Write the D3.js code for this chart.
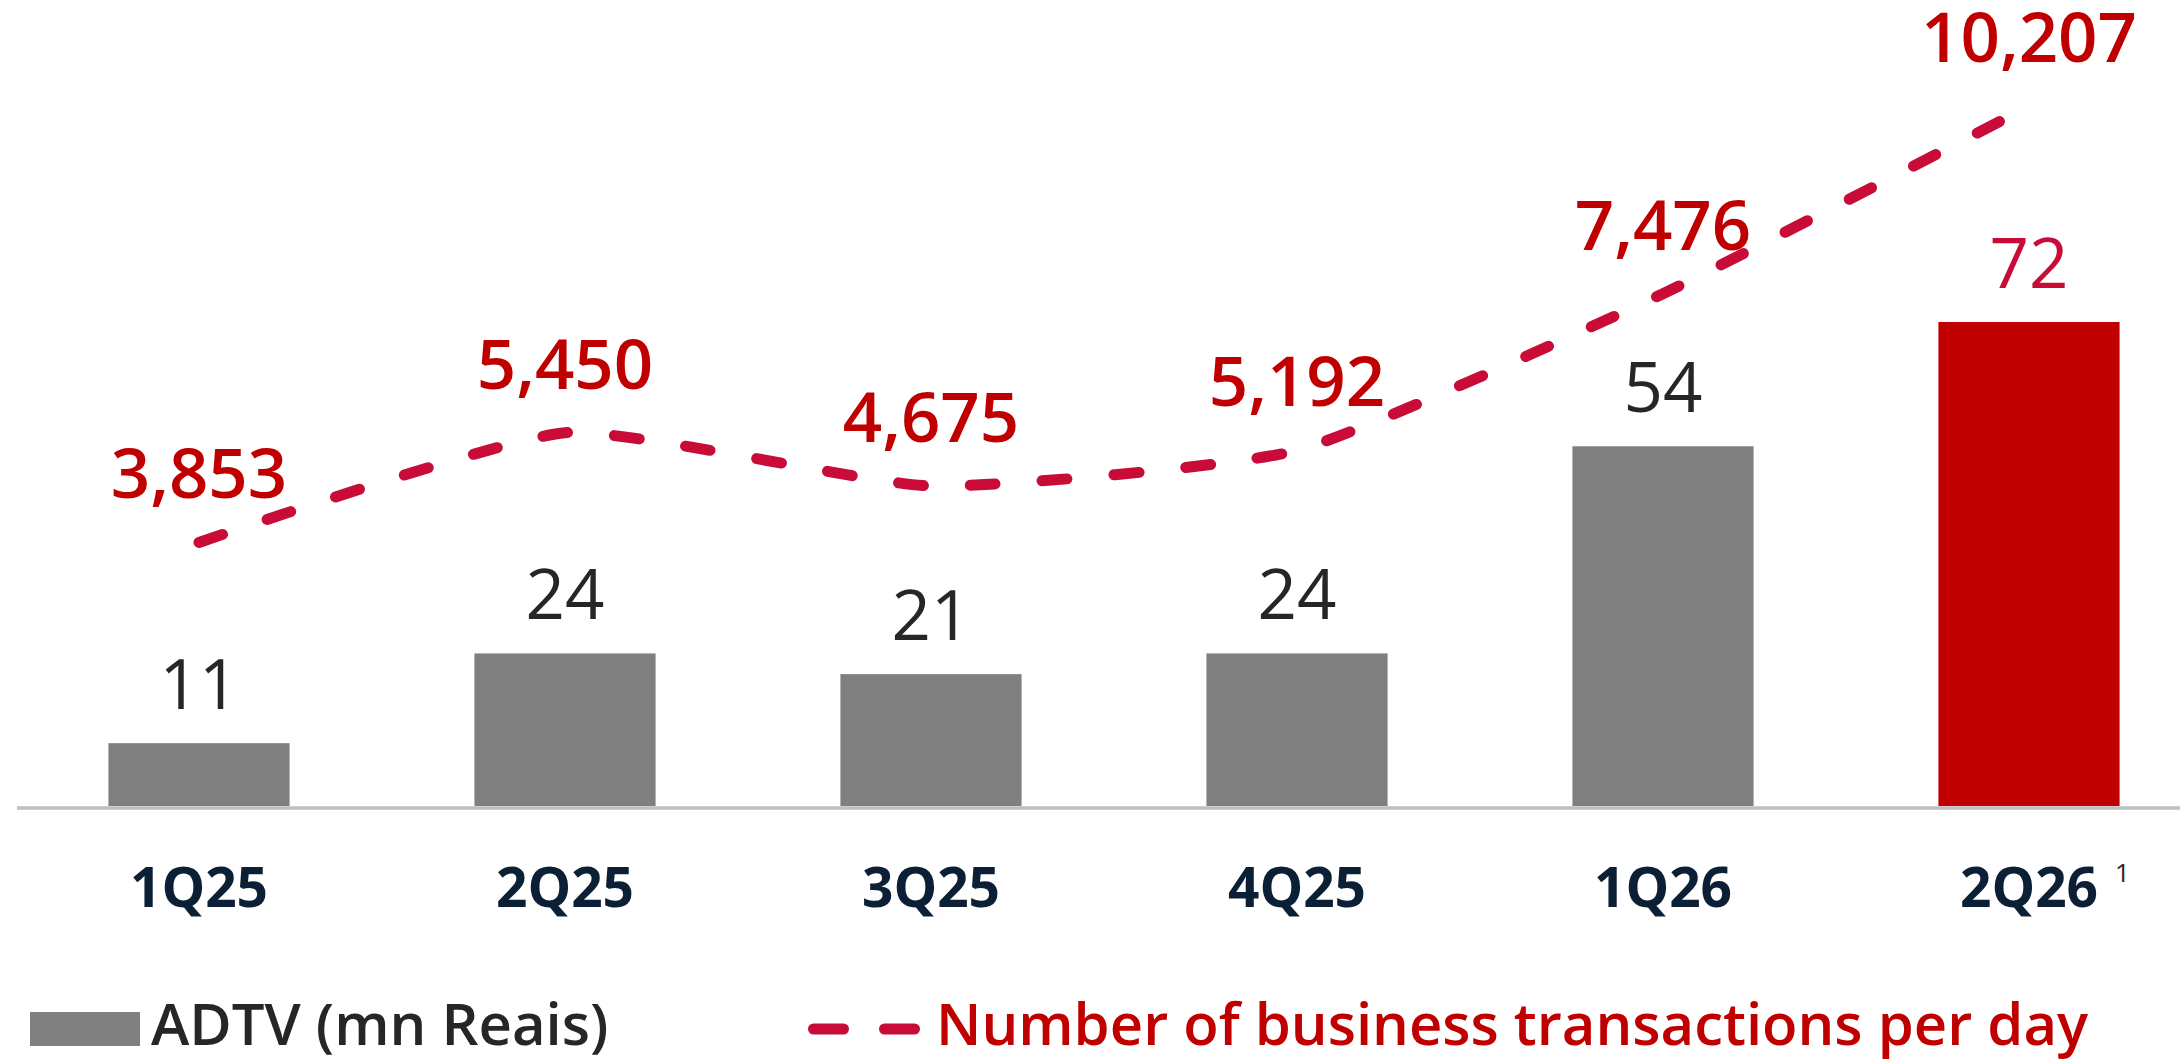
<!DOCTYPE html>
<html>
<head>
<meta charset="utf-8">
<script src="https://cdn.jsdelivr.net/npm/d3@7"></script>
<style>
  html, body { margin: 0; padding: 0; background: #ffffff; }
  svg { display: block; }
  text { font-family: "Open Sans", "Noto Sans", sans-serif; }
</style>
</head>
<body>
<svg id="chart" width="2180" height="1061"></svg>
<script>
// Quarterly ADTV (bars) and daily business transactions (dashed line)
const categories = ["1Q25", "2Q25", "3Q25", "4Q25", "1Q26", "2Q26"];
const adtv = [11, 24, 21, 24, 54, 72];
const transactions = [3853, 5450, 4675, 5192, 7476, 10207];
const highlighted = "2Q26";
const footnoteFor = "2Q26";
const footnote = "1";
const legendBars = "ADTV (mn Reais)";
const legendLine = "Number of business transactions per day";

const W = 2180, H = 1061;
const baseY = 806;
const colGrey = "#808080";
const colRed = "#C00000";
const colLine = "#C80C37";
const colText = "#262626";
const colCat = "#0B1F35";

const svg = d3.select("#chart");
svg.append("rect").attr("width", W).attr("height", H).attr("fill", "#fff");

const x = d3.scaleBand()
  .domain(categories)
  .range([16, 2212])
  .paddingInner(0.505)
  .paddingOuter(0.2525);
const cx = d => x(d) + x.bandwidth() / 2;

// Bar axis starts slightly above zero, line axis starts at zero
const yBar = d3.scaleLinear().domain([1.9, 72]).range([baseY, 322]);
const yLine = d3.scaleLinear().domain([0, 12000]).range([807, -17]);

const rows = categories.map((c, i) => ({ cat: c, bar: adtv[i], line: transactions[i] }));

// Bars
svg.append("g").selectAll("rect")
  .data(rows)
  .join("rect")
  .attr("x", d => x(d.cat))
  .attr("width", x.bandwidth())
  .attr("y", d => yBar(d.bar))
  .attr("height", d => baseY - yBar(d.bar))
  .attr("fill", d => d.cat === highlighted ? colRed : colGrey);

// Bar value labels
svg.append("g").selectAll("text")
  .data(rows)
  .join("text")
  .attr("x", d => cx(d.cat))
  .attr("y", d => yBar(d.bar) - 34)
  .attr("text-anchor", "middle")
  .attr("font-size", 69)
  .attr("fill", d => d.cat === highlighted ? colLine : colText)
  .text(d => d.bar);

// Baseline
svg.append("line")
  .attr("x1", 17).attr("x2", W)
  .attr("y1", 808).attr("y2", 808)
  .attr("stroke", "#BFBFBF")
  .attr("stroke-width", 3.5);

// Category axis
const axis = svg.append("g")
  .attr("transform", `translate(0,808)`)
  .call(d3.axisBottom(x).tickSize(0));
axis.select(".domain").remove();
axis.selectAll(".tick text")
  .attr("y", 99)
  .attr("dy", 0)
  .attr("font-size", 55)
  .attr("font-weight", 700)
  .attr("font-family", "\"Open Sans\", sans-serif")
  .attr("fill", colCat);

svg.append("text")
  .attr("x", cx(footnoteFor) + 86)
  .attr("y", 882)
  .attr("font-size", 26)
  .attr("fill", colText)
  .text(footnote);

// Transactions line
const line = d3.line()
  .x(d => cx(d.cat))
  .y(d => yLine(d.line))
  .curve(d3.curveCardinal.tension(0.5));

svg.append("path")
  .datum(rows)
  .attr("d", line)
  .attr("fill", "none")
  .attr("stroke", colLine)
  .attr("stroke-width", 11)
  .attr("stroke-linecap", "round")
  .attr("stroke-dasharray", "25 47");

// Line value labels
const fmt = d3.format(",");
svg.append("g").selectAll("text")
  .data(rows)
  .join("text")
  .attr("x", d => cx(d.cat))
  .attr("y", d => yLine(d.line) - 44)
  .attr("text-anchor", "middle")
  .attr("font-size", 69)
  .attr("font-weight", 600)
  .attr("fill", colRed)
  .text(d => fmt(d.line));

// Legend
const lg = svg.append("g");
lg.append("rect")
  .attr("x", 30).attr("y", 1012)
  .attr("width", 110).attr("height", 34)
  .attr("fill", colGrey);
lg.append("text")
  .attr("x", 151).attr("y", 1045)
  .attr("font-size", 58)
  .attr("font-weight", 600)
  .attr("fill", colText)
  .text(legendBars);
lg.append("line")
  .attr("x1", 813.5).attr("x2", 914.5)
  .attr("y1", 1029).attr("y2", 1029)
  .attr("stroke", colLine)
  .attr("stroke-width", 11)
  .attr("stroke-linecap", "round")
  .attr("stroke-dasharray", "30 41");
lg.append("text")
  .attr("x", 936).attr("y", 1045)
  .attr("font-size", 58)
  .attr("font-weight", 600)
  .attr("fill", colRed)
  .text(legendLine);
</script>
</body>
</html>
